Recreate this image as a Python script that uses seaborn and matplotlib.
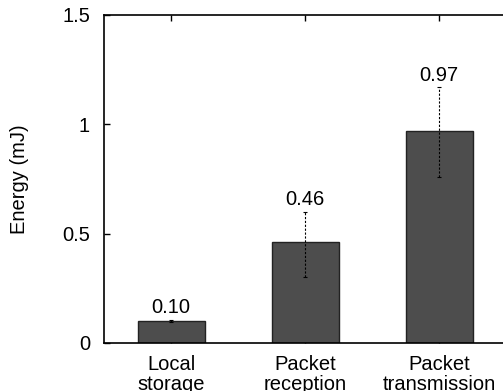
import matplotlib
matplotlib.use("Agg")
import matplotlib.pyplot as plt
import numpy as np
import pandas as pd
import seaborn as sns

# values
categories = ["Local\nstorage", "Packet\nreception", "Packet\ntransmission"]
energy = [0.10, 0.46, 0.97]
err_low = [0.005, 0.16, 0.21]
err_high = [0.005, 0.14, 0.20]
labels = ["0.10", "0.46", "0.97"]

sns.set_style("ticks")
plt.rcParams["font.family"] = ["Liberation Sans", "DejaVu Sans"]
plt.rcParams["text.color"] = "black"
plt.rcParams["axes.labelcolor"] = "black"
plt.rcParams["xtick.color"] = "black"
plt.rcParams["ytick.color"] = "black"

FS = 14.5

df = pd.DataFrame({"task": categories, "energy": energy})

fig = plt.figure(figsize=(5.03, 3.91), dpi=100)
ax = fig.add_axes([104 / 503, 1 - 343 / 391, (503 - 104) / 503 + 0.02, (343 - 15) / 391])

sns.barplot(data=df, x="task", y="energy", color="#4d4d4d", edgecolor="#222222",
            linewidth=1.0, width=0.5, saturation=1, errorbar=None, ax=ax)

x = np.arange(len(categories))
eb = ax.errorbar(x, energy, yerr=[err_low, err_high], fmt="none", ecolor="black",
                 elinewidth=0.8, capsize=1.2, capthick=0.8)
for line in eb[2]:
    line.set_linestyle((0, (2, 1.5)))

for xi, v, eh, lab in zip(x, energy, err_high, labels):
    ax.text(xi, v + eh + 0.012, lab, ha="center", va="bottom", fontsize=FS)

ax.set_xlim(-0.5, 2.55)
ax.set_ylim(0, 1.5)
ax.set_yticks([0, 0.5, 1, 1.5])
ax.set_yticklabels(["0", "0.5", "1", "1.5"])
ax.set_xlabel("")
ax.set_ylabel("Energy (mJ)", fontsize=FS, labelpad=24)
ax.tick_params(axis="both", direction="in", labelsize=FS, length=4, width=1,
               top=True, bottom=True, left=True, right=False)
ax.tick_params(axis="y", pad=10)
ax.tick_params(axis="x", pad=9)
for lab in ax.get_xticklabels():
    lab.set_linespacing(1.0)
for s in ["left", "top", "bottom"]:
    ax.spines[s].set_linewidth(1.2)
    ax.spines[s].set_color("black")
ax.spines["right"].set_visible(False)

fig.savefig("out.png", dpi=100)
